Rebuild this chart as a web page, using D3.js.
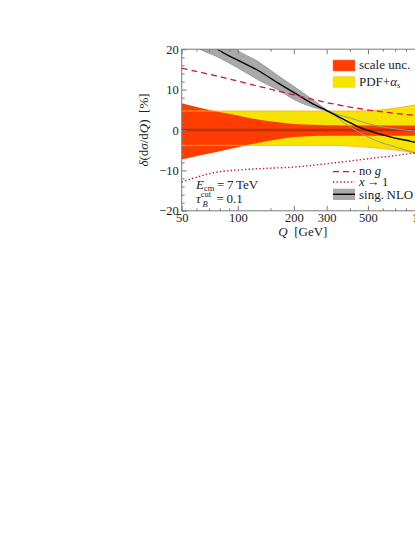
<!DOCTYPE html>
<html>
<head>
<meta charset="utf-8">
<script src="https://cdn.jsdelivr.net/npm/d3@7"></script>
<style>
  body { margin: 0; background: #fff; }
  text { font-family: "Liberation Serif", "DejaVu Serif", serif; fill: #222; }
  .tick text { font-size: 12.5px; }
</style>
</head>
<body>
<svg id="chart"></svg>
<script>
// scale uncertainty band (red)
var scaleQ  = [50, 78, 100, 128, 165, 210, 300, 500, 1000]
var scaleUp = [6.6, 4.5, 3.6, 2.6, 1.9, 1.4, 1.2, 1.1, 1.1]
var scaleDn = [-7.3, -5.4, -4.3, -3.2, -2.3, -1.7, -1.4, -1.4, -1.4]

// PDF + alpha_s band (yellow)
var pdfQ  = [50, 200, 300, 450, 600, 800, 900, 1000]
var pdfUp = [4.7, 4.7, 4.7, 4.7, 5.0, 5.8, 6.2, 6.6]
var pdfDn = [-3.8, -3.8, -3.8, -4.1, -4.6, -5.3, -5.8, -6.3]

// no g (dashed)
var noGQ   = [50, 80, 130, 200, 330, 550, 900, 1000]
var noGVal = [15.3, 13.2, 10.8, 8.7, 6.4, 4.7, 3.6, 3.4]

// x -> 1 (dotted)
var x1Q   = [50, 62, 78, 100, 128, 211, 333, 548, 900, 1000]
var x1Val = [-12.9, -11.5, -10.4, -9.9, -9.6, -9.1, -8.1, -6.9, -5.6, -5.2]

// singular NLO central + band edges
var nloQ   = [70, 78, 100, 130, 165, 210, 260, 300, 350, 430, 500, 600, 700, 850, 1000]
var nloVal = [21.8, 20, 17.3, 14.6, 11.6, 8.7, 6.2, 4.8, 3.2, 1.1, -0.1, -1.2, -2.0, -2.8, -3.6]
var nloUpQ = [90, 98, 128, 165, 210, 260, 300, 400, 550, 700, 900, 1000]
var nloUp  = [21.5, 20, 17.0, 13.4, 10.1, 7.1, 5.0, 3.0, 1.1, 0.3, -0.3, -0.6]
var nloDnQ = [55, 62.7, 78, 100, 128, 165, 210, 260, 300, 400, 550, 700, 900, 1000]
var nloDn  = [21.6, 20, 18.1, 15.4, 12.5, 9.9, 7.1, 5.5, 4.7, 0.8, -2.6, -4.2, -5.7, -6.3]

var xMajor = [50, 100, 200, 300, 500, 1000]
var xMinor = [60, 70, 80, 90, 150, 400, 600, 700, 800, 900]
var yMajor = [-20, -10, 0, 10, 20]
var yMinor = d3.range(-18, 20, 2).filter(function(v){ return v % 10 != 0 })

var screen = {width: 415, height: 537}
var plot = {left: 181.7, right: 424, top: 49.2, bottom: 210.8}

var svg = d3.select("#chart")
    .attr("width", screen.width)
    .attr("height", screen.height)

var xScale = d3.scaleLog().domain([50, 1000]).range([plot.left, plot.right])
var yScale = d3.scaleLinear().domain([-20, 20]).range([plot.bottom, plot.top])

var defs = svg.append("defs")
defs.append("clipPath").attr("id", "clip")
    .append("rect")
    .attr("x", plot.left).attr("y", plot.top)
    .attr("width", plot.right - plot.left).attr("height", plot.bottom - plot.top)

var g = svg.append("g").attr("clip-path", "url(#clip)")

var zip = function(qs, vs) {
    return qs.map(function(q, i){ return {q: q, v: vs[i]} })
}
var zip2 = function(qs, up, dn) {
    return qs.map(function(q, i){ return {q: q, up: up[i], dn: dn[i]} })
}

var line = d3.line()
    .x(function(d){ return xScale(d.q) })
    .y(function(d){ return yScale(d.v) })
    .curve(d3.curveMonotoneX)
var band = d3.area()
    .x(function(d){ return xScale(d.q) })
    .y0(function(d){ return yScale(d.dn) })
    .y1(function(d){ return yScale(d.up) })
    .curve(d3.curveMonotoneX)

// gray band of singular NLO: region below the upper edge and above the lower edge
var grayUpPath = line(zip(nloUpQ, nloUp))
var grayDnPath = line(zip(nloDnQ, nloDn))
defs.append("clipPath").attr("id", "grayclip")
    .append("path")
    .attr("d", grayUpPath + "L" + xScale(1000) + "," + yScale(-40) + "L" + xScale(40) + "," + yScale(-40) + "L" + xScale(40) + "," + yScale(40) + "L" + xScale(90) + "," + yScale(40) + "Z")
g.append("g").attr("clip-path", "url(#grayclip)")
    .append("path")
    .attr("d", grayDnPath + "L" + xScale(1000) + "," + yScale(40) + "L" + xScale(55) + "," + yScale(40) + "Z")
    .attr("fill", "#a9a9a9")

// yellow band
g.append("path")
    .attr("d", band(zip2(pdfQ, pdfUp, pdfDn)))
    .attr("fill", "#f7e300")

// red band
g.append("path")
    .attr("d", band(zip2(scaleQ, scaleUp, scaleDn)))
    .attr("fill", "#ff3d00")

// yellow edges through the red
g.append("path").attr("d", line(zip(pdfQ, pdfUp)))
    .attr("fill", "none").attr("stroke", "#ffb21e").attr("stroke-width", 0.9)
g.append("path").attr("d", line(zip(pdfQ, pdfDn)))
    .attr("fill", "none").attr("stroke", "#ffb21e").attr("stroke-width", 0.9)

// central zero line
g.append("line")
    .attr("x1", plot.left).attr("x2", plot.right)
    .attr("y1", yScale(0)).attr("y2", yScale(0))
    .attr("stroke", "#bb3208").attr("stroke-width", 2.6)

// gray edges
g.append("path").attr("d", grayUpPath)
    .attr("fill", "none").attr("stroke", "#999").attr("stroke-width", 1)
g.append("path").attr("d", grayDnPath)
    .attr("fill", "none").attr("stroke", "#999").attr("stroke-width", 1)

// black central line
g.append("path").attr("d", line(zip(nloQ, nloVal)))
    .attr("fill", "none").attr("stroke", "#000").attr("stroke-width", 1.4)

// no g
g.append("path").attr("d", line(zip(noGQ, noGVal)))
    .attr("fill", "none").attr("stroke", "#c8193c").attr("stroke-width", 1.3)
    .attr("stroke-dasharray", "6,4")

// x -> 1
g.append("path").attr("d", line(zip(x1Q, x1Val)))
    .attr("fill", "none").attr("stroke", "#c8193c").attr("stroke-width", 1.4)
    .attr("stroke-dasharray", "1.4,2.2")

// axes
var axisColor = "#7a7a7a"
var styleAxis = function(sel) {
    sel.select(".domain").remove()
    sel.selectAll(".tick line").attr("stroke", axisColor)
    sel.selectAll(".tick text").attr("fill", "#222")
}
var axes = svg.append("g")

axes.append("g").attr("transform", "translate(0," + plot.bottom + ")")
    .call(d3.axisBottom(xScale).tickValues(xMajor).tickSize(-5).tickPadding(2)
        .tickFormat(d3.format("d")))
    .call(styleAxis)
axes.append("g").attr("transform", "translate(0," + plot.bottom + ")")
    .call(d3.axisBottom(xScale).tickValues(xMinor).tickSize(-2.5).tickFormat(""))
    .call(styleAxis)
axes.append("g").attr("transform", "translate(0," + plot.top + ")")
    .call(d3.axisTop(xScale).tickValues(xMajor).tickSize(-5).tickFormat(""))
    .call(styleAxis)
axes.append("g").attr("transform", "translate(0," + plot.top + ")")
    .call(d3.axisTop(xScale).tickValues(xMinor).tickSize(-2.5).tickFormat(""))
    .call(styleAxis)
axes.append("g").attr("transform", "translate(" + plot.left + ",0)")
    .call(d3.axisLeft(yScale).tickValues(yMajor).tickSize(-5).tickPadding(3)
        .tickFormat(function(d){ return d < 0 ? "\u2212" + Math.abs(d) : d }))
    .call(styleAxis)
axes.append("g").attr("transform", "translate(" + plot.left + ",0)")
    .call(d3.axisLeft(yScale).tickValues(yMinor).tickSize(-3).tickFormat(""))
    .call(styleAxis)

// frame
svg.append("rect")
    .attr("x", plot.left).attr("y", plot.top)
    .attr("width", plot.right - plot.left).attr("height", plot.bottom - plot.top)
    .attr("fill", "none").attr("stroke", axisColor).attr("stroke-width", 1)

// axis labels
var xl = svg.append("text").attr("x", (plot.left + plot.right) / 2).attr("y", 236)
    .attr("text-anchor", "middle").attr("font-size", 13)
xl.append("tspan").attr("font-style", "italic").text("Q")
xl.append("tspan").text("\u2002[GeV]")

var yl = svg.append("text")
    .attr("transform", "translate(148," + ((plot.top + plot.bottom) / 2) + ") rotate(-90)")
    .attr("text-anchor", "middle").attr("font-size", 13)
yl.append("tspan").attr("font-style", "italic").text("\u03b4")
yl.append("tspan").text("(d")
yl.append("tspan").attr("font-style", "italic").text("\u03c3")
yl.append("tspan").text("/d")
yl.append("tspan").attr("font-style", "italic").text("Q")
yl.append("tspan").text(")\u2002[%]")

// legend upper right
var leg = svg.append("g").attr("font-size", 13)
leg.append("rect").attr("x", 333).attr("y", 60).attr("width", 22).attr("height", 11)
    .attr("fill", "#ff3d00").attr("stroke", "#ff7a55").attr("stroke-width", 0.6)
leg.append("text").attr("x", 359).attr("y", 69).text("scale unc.")
leg.append("rect").attr("x", 333).attr("y", 76.5).attr("width", 22).attr("height", 11)
    .attr("fill", "#f7e300").attr("stroke", "#f2d84a").attr("stroke-width", 0.6)
var pt = leg.append("text").attr("x", 359).attr("y", 85.5)
pt.append("tspan").text("PDF+")
pt.append("tspan").attr("font-style", "italic").text("\u03b1")
pt.append("tspan").attr("font-style", "italic").attr("font-size", 8.5).attr("dy", 2.5).text("s")

// legend lower right
leg.append("line").attr("x1", 333).attr("x2", 355).attr("y1", 171.7).attr("y2", 171.7)
    .attr("stroke", "#c8193c").attr("stroke-width", 1.3).attr("stroke-dasharray", "6,4")
var ng = leg.append("text").attr("x", 359).attr("y", 175).attr("font-size", 12.5)
ng.append("tspan").text("no ")
ng.append("tspan").attr("font-style", "italic").text("g")
leg.append("line").attr("x1", 333).attr("x2", 355).attr("y1", 182).attr("y2", 182)
    .attr("stroke", "#c8193c").attr("stroke-width", 1.4).attr("stroke-dasharray", "1.4,2.2")
var xt = leg.append("text").attr("x", 359).attr("y", 186).attr("font-size", 12.5)
xt.append("tspan").attr("font-style", "italic").text("x")
xt.append("tspan").text("\u2009\u2192\u20091")
leg.append("rect").attr("x", 333).attr("y", 188.7).attr("width", 22).attr("height", 11.3)
    .attr("fill", "#a9a9a9")
leg.append("line").attr("x1", 333).attr("x2", 355).attr("y1", 194.3).attr("y2", 194.3)
    .attr("stroke", "#000").attr("stroke-width", 1.4)
leg.append("text").attr("x", 359).attr("y", 198.5).text("sing.\u2009NLO")

// annotation lower left
var ann = svg.append("g").attr("font-size", 13)
var e1 = ann.append("text").attr("x", 196).attr("y", 188.5)
e1.append("tspan").attr("font-style", "italic").text("E")
e1.append("tspan").attr("font-size", 8.5).attr("dy", 2).text("cm")
e1.append("tspan").attr("dy", -2).text("\u2009=\u20097\u2009TeV")
var e2 = ann.append("text").attr("x", 196).attr("y", 203)
e2.append("tspan").attr("font-style", "italic").text("\u03c4")
e2.append("tspan").attr("font-size", 8.5).attr("dy", -6).text("cut")
e2.append("tspan").attr("font-size", 8.5).attr("font-style", "italic")
    .attr("x", 202.5).attr("dy", 9.5).text("B")
e2.append("tspan").attr("x", 214).attr("dy", -3.5).text("\u2009=\u20090.1")
</script>
</body>
</html>
